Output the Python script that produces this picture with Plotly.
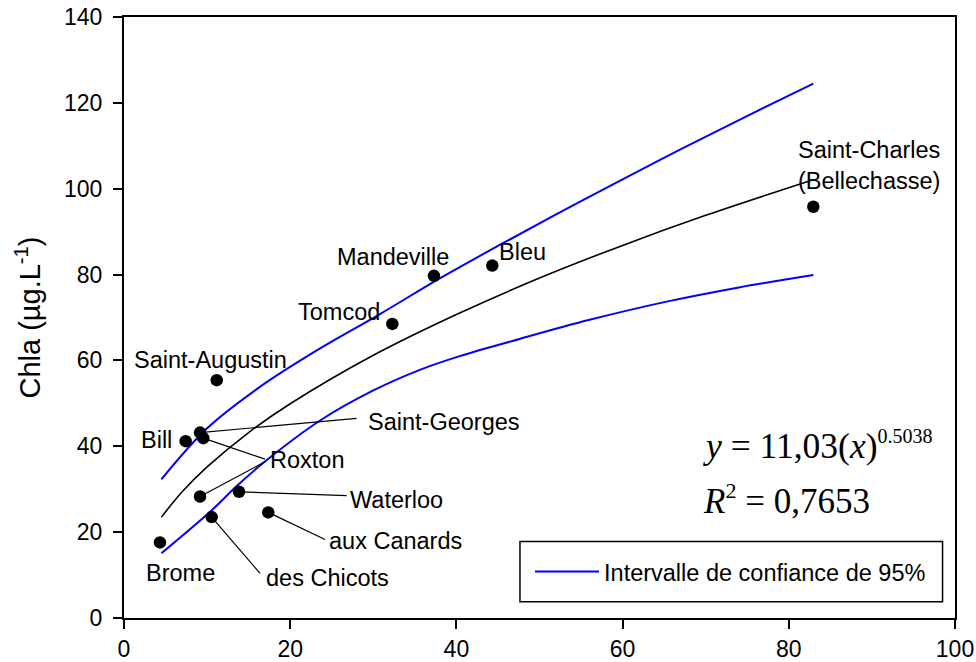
import plotly.graph_objects as go

# ---------------- data ----------------
site_names = ["Brome", "Bill", "Saint-Georges", "Roxton", "Roxton (2)", "Saint-Augustin",
              "des Chicots", "Waterloo", "aux Canards", "Tomcod", "Mandeville", "Bleu",
              "Saint-Charles (Bellechasse)"]
site_x = [4.33, 7.42, 9.15, 9.54, 9.15, 11.16, 10.55, 13.84, 17.36, 32.29, 37.30, 44.32, 82.95]
site_y = [17.6, 41.2, 43.2, 41.9, 28.3, 55.4, 23.5, 29.4, 24.6, 68.5, 79.7, 82.1, 95.8]

# fitted power curve y = 11,03 x^0.5038
fit_x = [4.5, 7.0, 10.0, 15.0, 20.0, 30.0, 40.0, 50.0, 60.0, 70.0, 82.95]
fit_y = [23.5, 29.4, 35.2, 43.2, 49.9, 61.2, 70.7, 79.2, 86.8, 93.8, 102.1]

# 95 % confidence band (blue lines)
upper_x = [4.5, 10.0, 16.4, 23.0, 30.8, 38.0, 45.6, 55.0, 64.5, 74.0, 82.95]
upper_y = [32.3, 44.2, 53.9, 62.1, 70.8, 79.1, 87.3, 97.1, 106.7, 116.0, 124.5]
lower_x = [4.5, 10.5, 13.6, 17.0, 23.6, 30.0, 35.6, 40.4, 47.6, 55.9, 65.3, 74.0, 82.95]
lower_y = [15.1, 25.0, 30.8, 36.5, 46.0, 53.0, 57.8, 61.0, 65.0, 69.4, 73.7, 77.0, 79.9]

x_ticks = [0, 20, 40, 60, 80, 100]
y_ticks = [0, 20, 40, 60, 80, 100, 120, 140]

legend_label = "Intervalle de confiance de 95%"
equation_text = ("<i>y</i> = 11,03(<i>x</i>)"
                 "<sup><span style='font-size:20px'>0.5038</span></sup>")
r2_text = "<i>R</i><sup><span style='font-size:22px'>2</span></sup> = 0,7653"

# label placement (layout only): text, centre x, centre y
labels = [
    ("Saint-Augustin", 10.41, 60.1),
    ("Bill", 3.93, 41.5),
    ("Brome", 6.84, 10.4),
    ("des Chicots", 24.49, 9.25),
    ("Roxton", 21.99, 36.8),
    ("Saint-Georges", 38.48, 45.7),
    ("Waterloo", 32.85, 27.5),
    ("aux Canards", 32.73, 18.0),
    ("Tomcod", 25.87, 71.3),
    ("Mandeville", 32.35, 84.2),
    ("Bleu", 47.95, 85.3),
    ("Saint-Charles<br>(Bellechasse)", 89.7, 105.5),
]
# leader lines: point index -> end of line near its label
leaders = [(2, 28.0, 46.5), (3, 16.97, 37.0), (4, 16.97, 36.4),
           (7, 26.8, 28.5), (8, 24.19, 18.3), (6, 16.37, 10.4)]

SANS = "Liberation Sans, Arial, sans-serif"
SERIF = "Liberation Serif, Times New Roman, serif"
BLUE = "#0000ff"

fig = go.Figure()
fig.add_trace(go.Scatter(x=upper_x, y=upper_y, mode="lines", name=legend_label,
                         line=dict(color=BLUE, width=2, shape="spline"),
                         legendgroup="ci", showlegend=True))
fig.add_trace(go.Scatter(x=lower_x, y=lower_y, mode="lines", name=legend_label,
                         line=dict(color=BLUE, width=2, shape="spline"),
                         legendgroup="ci", showlegend=False))
fig.add_trace(go.Scatter(x=fit_x, y=fit_y, mode="lines", name="fit",
                         line=dict(color="black", width=1.6, shape="spline"),
                         showlegend=False))
fig.add_trace(go.Scatter(x=site_x, y=site_y, mode="markers", name="sites",
                         text=site_names,
                         marker=dict(color="black", size=12.5), showlegend=False))

shapes = []
for idx, ex, ey in leaders:
    shapes.append(dict(type="line", xref="x", yref="y", x0=site_x[idx], y0=site_y[idx],
                       x1=ex, y1=ey, line=dict(color="black", width=1.2)))
# legend frame
shapes.append(dict(type="rect", xref="x", yref="y", x0=47.65, x1=98.5, y0=3.8, y1=17.8,
                   line=dict(color="black", width=1.5), fillcolor="rgba(0,0,0,0)"))

annotations = []
for txt, lx, ly in labels:
    annotations.append(dict(x=lx, y=ly, xref="x", yref="y", text=txt, showarrow=False,
                            xanchor="center", yanchor="middle",
                            font=dict(family=SANS, size=23.5, color="black")))
annotations.append(dict(x=69.4, y=40.3, xref="x", yref="y", text=equation_text,
                        showarrow=False, xanchor="left", yanchor="middle",
                        font=dict(family=SERIF, size=35.5, color="black")))
annotations.append(dict(x=69.4, y=27.5, xref="x", yref="y", text=r2_text,
                        showarrow=False, xanchor="left", yanchor="middle",
                        font=dict(family=SERIF, size=35, color="black")))

axis_common = dict(showline=True, linecolor="black", linewidth=2, mirror=True,
                   ticks="outside", ticklen=9, tickwidth=1.5, tickcolor="black",
                   showgrid=False, zeroline=False, automargin=False,
                   ticklabeloverflow="allow",
                   tickfont=dict(family=SANS, size=23, color="black"))

fig.update_layout(
    width=976, height=662,
    margin=dict(l=124, r=21, t=17, b=44, autoexpand=False),
    paper_bgcolor="white", plot_bgcolor="white",
    xaxis=dict(range=[0, 100], tickvals=x_ticks, **axis_common),
    yaxis=dict(range=[0, 140], tickvals=y_ticks, ticklabelstandoff=6,
               title=dict(text="Chla (µg.L<sup>-1</sup>)", standoff=15,
                          font=dict(family=SANS, size=29, color="black")),
               **axis_common),
    legend=dict(x=0.4886, y=0.077, xanchor="left", yanchor="middle",
                bgcolor="rgba(0,0,0,0)", borderwidth=0, itemwidth=64,
                font=dict(family=SANS, size=23.5, color="black")),
    shapes=shapes,
    annotations=annotations,
)

fig.write_html("out.html",
               config={"displayModeBar": False},
               post_script="document.body.style.margin='0px';"
                           "document.body.style.overflow='hidden';")
